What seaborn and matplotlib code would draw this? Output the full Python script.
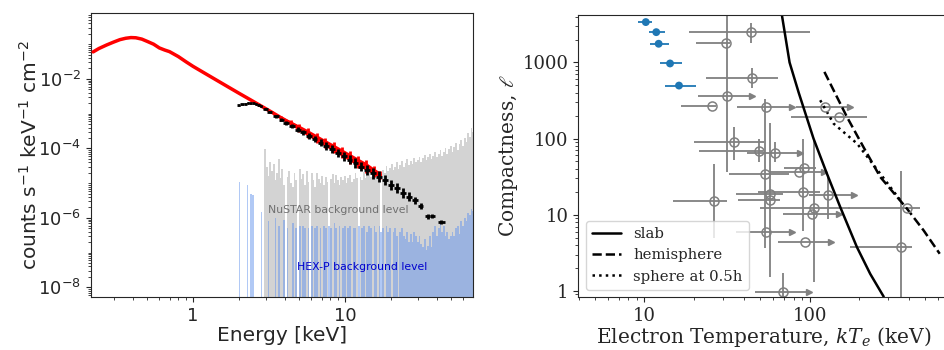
import numpy as np
import seaborn as sns
import matplotlib.pyplot as plt
from matplotlib.ticker import LogLocator, NullFormatter

# --- dados: painel do espectro ---
model_E = [0.22, 0.24, 0.27, 0.30, 0.33, 0.36, 0.39, 0.42, 0.46, 0.50, 0.55, 0.60, 0.65,
           0.70, 0.80, 0.90, 1.0, 1.2, 1.4, 1.7, 2.0, 2.4, 2.8, 3.3, 3.8, 4.4, 5.0, 5.7,
           6.5, 7.4, 8.4, 9.5, 10.8, 12.2, 13.8, 15.5, 17.0]
model_F = [0.060, 0.075, 0.095, 0.115, 0.135, 0.148, 0.155, 0.153, 0.140, 0.120, 0.100,
           0.078, 0.068, 0.061, 0.044, 0.031, 0.023, 0.0144, 0.0097, 0.0059, 0.0039,
           0.00247, 0.00167, 0.00110, 7.6e-4, 5.3e-4, 3.8e-4, 2.7e-4, 1.95e-4, 1.39e-4,
           1.01e-4, 7.4e-5, 5.3e-5, 3.9e-5, 2.9e-5, 2.1e-5, 1.7e-5]
model_dex = [0] * 23 + [0.03, 0.05, 0.08, 0.11, 0.13, 0.13, 0.14, 0.15, 0.15, 0.16, 0.16,
                        0.16, 0.14, 0.11]

nustar_E = [2.0, 2.1, 2.2, 2.3, 2.4, 2.5, 2.6, 2.7, 2.8, 3.0, 3.2, 3.5, 3.8, 4.1, 4.5,
            4.9, 5.3, 5.8, 6.3, 6.9, 7.5, 8.2, 9.0, 9.8, 10.7, 11.7, 12.8, 14.0, 15.3,
            16.7, 18.3, 20.0, 21.9, 24.0, 26.3, 28.8, 31.5, 35.0, 37.6, 43.0]
nustar_F = [1.75e-3, 1.85e-3, 1.95e-3, 2.05e-3, 2.0e-3, 2.0e-3, 1.9e-3, 1.8e-3, 1.65e-3,
            1.35e-3, 1.12e-3, 8.3e-4, 6.7e-4, 5.5e-4, 4.4e-4, 3.5e-4, 2.9e-4, 2.3e-4,
            1.85e-4, 1.48e-4, 1.19e-4, 9.5e-5, 7.5e-5, 6.0e-5, 4.8e-5, 3.8e-5, 3.0e-5,
            2.4e-5, 1.9e-5, 1.55e-5, 1.25e-5, 9.0e-6, 7.3e-6, 5.3e-6, 4.1e-6, 3.2e-6,
            2.2e-6, 1.1e-6, 1.15e-6, 7.8e-7]
nustar_dE = [0.05] * 9 + [0.1, 0.12, 0.15, 0.15, 0.18, 0.2, 0.2, 0.22, 0.25, 0.28, 0.3,
                          0.33, 0.37, 0.4, 0.43, 0.47, 0.5, 0.55, 0.62, 0.68, 0.75, 0.8,
                          0.9, 1.0, 1.05, 1.15, 1.25, 1.2, 1.3, 1.5, 2.2]
nustar_dex = [0.02] * 9 + [0.03, 0.03, 0.04, 0.05, 0.06, 0.06, 0.07, 0.08, 0.09, 0.09,
                           0.10, 0.11, 0.12, 0.12, 0.13, 0.13, 0.14, 0.14, 0.15, 0.15,
                           0.15, 0.15, 0.15, 0.15, 0.14, 0.12, 0.11, 0.08, 0.06, 0.06, 0.06]

bkg_E = [2.00, 2.05, 2.11, 2.16, 2.22, 2.28, 2.34, 2.41, 2.47, 2.54,
         2.60, 2.67, 2.74, 2.82, 2.89, 2.97, 3.05, 3.13, 3.21, 3.30,
         3.39, 3.48, 3.57, 3.67, 3.76, 3.86, 3.97, 4.07, 4.18, 4.30,
         4.41, 4.53, 4.65, 4.77, 4.90, 5.03, 5.16, 5.30, 5.44, 5.59,
         5.74, 5.89, 6.05, 6.21, 6.37, 6.54, 6.72, 6.90, 7.08, 7.27,
         7.46, 7.66, 7.87, 8.08, 8.29, 8.51, 8.74, 8.97, 9.21, 9.46,
         9.71, 9.97, 10.2, 10.5, 10.8, 11.1, 11.4, 11.7, 12.0, 12.3,
         12.6, 12.9, 13.3, 13.6, 14.0, 14.4, 14.8, 15.2, 15.6, 16.0,
         16.4, 16.9, 17.3, 17.8, 18.3, 18.8, 19.2, 19.8, 20.3, 20.8,
         21.4, 22.0, 22.5, 23.1, 23.7, 24.4, 25.0, 25.7, 26.4, 27.1,
         27.8, 28.5, 29.3, 30.1, 30.9, 31.7, 32.6, 33.4, 34.3, 35.2,
         36.2, 37.1, 38.1, 39.2, 40.2, 41.3, 42.4, 43.5, 44.6, 45.8,
         47.1, 48.3, 49.6, 51.0, 52.3, 53.7, 55.1, 56.6, 58.1, 59.7,
         61.2, 62.9, 64.5, 66.3, 68.0, 69.8, 71.7]
# em unidades de 1e-5
nustar_bkg = [0, 0, 0, 0, 0, 0, 0, 0, 0, 0,
              0, 0, 0, 0, 0, 9.5, 3.0, 1.6, 4.0, 2.2,
              3.5, 1.2, 2.0, 5.0, 1.4, 2.6, 0.9, 0, 1.5, 2.3,
              1.0, 0.8, 1.9, 1.2, 0, 2.6, 1.3, 1.8, 0.9, 2.2,
              1.1, 0, 1.9, 1.2, 0.8, 2.0, 1.3, 1.0, 1.6, 0.9,
              1.5, 1.1, 0, 1.3, 1.8, 1.0, 1.7, 1.2, 0.9, 1.5,
              1.2, 1.6, 1.0, 1.4, 1.7, 1.1, 1.3, 2.0, 1.4, 0,
              1.5, 1.2, 2.1, 1.4, 1.8, 2.4, 1.5, 2.0, 2.6, 1.7,
              2.2, 1.6, 0, 2.4, 2.0, 3.2, 2.3, 2.8, 3.6, 2.4,
              3.0, 4.0, 2.6, 3.4, 4.4, 3.0, 3.8, 5.0, 3.4, 4.4,
              3.6, 5.2, 4.0, 4.8, 5.8, 4.2, 5.2, 6.5, 4.6, 5.6,
              7.0, 5.0, 6.2, 8.0, 5.6, 7.0, 9.0, 6.0, 8.0, 10,
              7.0, 9.5, 12, 8.0, 11, 14, 9.0, 13, 18, 12,
              20, 15, 28, 22, 38, 30, 35]
# em unidades de 1e-7
hexp_bkg = [110, 0, 0, 0, 0, 90, 0, 50, 45, 0,
            0, 0, 0, 15, 0, 0, 0, 8, 0, 0,
            0, 10, 0, 6, 0, 0, 9, 0, 5, 0,
            0, 7, 0, 5, 0, 6, 0, 6, 5, 0,
            5, 0, 6, 0, 5, 6, 0, 5, 0, 6,
            5, 0, 6, 5, 0, 7, 5, 0, 6, 0,
            5, 6, 0, 5, 6, 0, 5, 5, 0, 6,
            0, 5, 6, 0, 4, 6, 5, 0, 6, 4,
            0, 6, 4, 5, 0, 6, 4, 5, 0, 4,
            5, 3, 0, 4, 5, 3, 2.5, 4, 2, 3.5,
            2, 4, 3, 2, 3, 1.8, 1.5, 2.5, 1.2, 1.6,
            3, 1.5, 4, 6, 3, 5, 7, 4, 6, 3,
            4, 2.5, 3, 4, 3, 5, 6, 3.5, 8, 6,
            10, 8, 14, 12, 18, 16, 17]

# --- dados: painel de compacidade ---
blue_kT = [10.2, 11.8, 12.2, 14.3, 16.2]
blue_l = [3390, 2500, 1760, 970, 497]
blue_kT_lo = [9.2, 10.6, 10.8, 12.4, 13.3]
blue_kT_hi = [11.1, 13.3, 14.0, 16.8, 20.6]

gray_kT = [44.4, 31.3, 45.0, 31.6, 25.8, 54.7, 124.5, 151, 35.0, 49.3, 61.4, 54.1, 86.9,
           92.9, 26.3, 57.7, 57.7, 91.2, 129, 107, 104, 389, 358, 54.6, 94.3, 69.5]
gray_l = [2500, 1780, 616, 363, 268, 261, 261, 190, 89.3, 68.7, 64.6, 34.6, 36.4, 41.5,
          15.0, 18.9, 15.4, 19.8, 18.3, 12.4, 10.3, 12.4, 3.75, 6.0, 4.36, 0.98]
gray_kT_lo = [18.5, 20.5, 23.5, 21.0, 16.6, 36.6, 82.7, 77, 20, 21.3, 41.7, 32.6, 57.7,
              70, 15, 36, 37, 49, 99, 50, 69.5, 172, 176, 36, 64, 46.9]
gray_kT_hi = [100, 33, 64.5, 44.8, 27, 78, 176, 222, 53.3, 52, 87.6, 75, 121.7, 110,
              31.6, 69, 66, 116, 185, 176, 150, 469, 420, 78, 134, 99]
gray_l_lo = [1800, 1780, 455, 36, 268, 261, 261, 190, 52, 49, 49, 3.6, 36.4, 41.5, 5,
             18.9, 1.5, 6.1, 8.9, 1.3, 10.3, 12.4, 0.37, 6.0, 4.36, 0.5]
gray_l_hi = [3300, 1780, 834, 4500, 268, 261, 261, 190, 142, 100, 90, 330, 36.4, 41.5,
             47, 18.9, 158, 100, 33, 100, 10.3, 12.4, 37, 6.0, 4.36, 1.7]
gray_limit = [False, False, False, True, False, True, True, False, False, False, True,
              False, True, False, False, False, False, False, True, False, True, False,
              False, True, True, True]

slab_kT = [68.0, 75.7, 86.0, 105.7, 127.4, 153.4, 193.6, 233, 281]
slab_l = [4200, 1000, 400, 100, 34.6, 12.6, 3.75, 1.67, 0.84]
hemi_kT = [123, 168.5, 212, 268, 389, 491, 614]
hemi_l = [752, 192, 77.4, 31.3, 12.0, 6.2, 3.07]
sphere_kT = [116, 140, 194, 268, 355]
sphere_l = [319, 157, 86, 34.6, 15.4]

CINZA = '#808080'
AZUL = '#1f77b4'


def painel_espectro(ax):
    ax.set_xscale('log')
    ax.set_yscale('log')

    E = np.array(bkg_E)
    nus = np.clip(np.array(nustar_bkg) * 1e-5, 1e-14, None)
    hex_ = np.clip(np.array(hexp_bkg) * 1e-7, 1e-14, None)
    ax.fill_between(E, 1e-14, nus, step='mid', color='lightgray', lw=0, zorder=1)
    ax.fill_between(E, 1e-14, hex_, step='mid', color='cornflowerblue', alpha=0.5,
                    lw=0, zorder=2)

    mE = np.array(model_E)
    mF = np.array(model_F)
    md = np.array(model_dex)
    ax.fill_between(mE, mF * 10 ** (-0.6 * md), mF * 10 ** (0.8 * md), color='red',
                    lw=0, zorder=3)
    ax.errorbar(mE, mF, yerr=[mF * (1 - 10 ** -md), mF * (10 ** (1.2 * md) - 1)],
                fmt='none', ecolor='red', elinewidth=2.0, zorder=3)
    sns.lineplot(x=mE, y=mF, color='red', lw=2.5, ax=ax, zorder=3)

    nE = np.array(nustar_E)
    nF = np.array(nustar_F)
    nd = np.array(nustar_dex)
    ax.errorbar(nE, nF, xerr=nustar_dE, yerr=[nF * (1 - 10 ** -nd), nF * (10 ** nd - 1)],
                fmt='none', ecolor='black', elinewidth=2.0, zorder=4)

    ax.text(3.11, 1.7e-6, 'NuSTAR background level', color='#707070', fontsize=7.8,
            va='center', ha='left', zorder=5)
    ax.text(4.82, 3.9e-8, 'HEX-P background level', color='mediumblue', fontsize=7.8,
            va='center', ha='left', zorder=5)

    ax.set_xlim(0.213, 69.5)
    ax.set_ylim(5.3e-9, 0.79)
    ax.set_xticks([1, 10], labels=['1', '10'])
    ax.set_yticks([1e-8, 1e-6, 1e-4, 1e-2])
    ax.xaxis.set_minor_locator(LogLocator(base=10, subs=np.arange(2, 10), numticks=50))
    ax.yaxis.set_minor_locator(LogLocator(base=10, subs=np.arange(1, 10), numticks=50))
    ax.xaxis.set_minor_formatter(NullFormatter())
    ax.yaxis.set_minor_formatter(NullFormatter())
    ax.tick_params(labelsize=13)
    ax.set_xlabel('Energy [keV]', fontsize=14.5, labelpad=1)
    ax.set_ylabel('counts s$^{-1}$ keV$^{-1}$ cm$^{-2}$', fontsize=14.5, labelpad=-2)


def painel_compacidade(ax):
    ax.set_xscale('log')
    ax.set_yscale('log')

    kT = np.array(gray_kT)
    lv = np.array(gray_l)
    lo = np.array(gray_kT_lo)
    hi = np.array(gray_kT_hi)
    llo = np.array(gray_l_lo)
    lhi = np.array(gray_l_hi)
    lim = np.array(gray_limit)

    ax.errorbar(kT, lv, xerr=[kT - lo, np.where(lim, 0, hi - kT)],
                yerr=[lv - llo, lhi - lv], fmt='o', ms=6.5, mfc='none', mec=CINZA,
                mew=1.1, ecolor=CINZA, elinewidth=1.3, capsize=0, zorder=2)
    # limites inferiores: linha ate o fim e seta
    ax.hlines(lv[lim], kT[lim], hi[lim], color=CINZA, lw=1.3, zorder=2)
    ax.plot(hi[lim], lv[lim], ls='none', marker='>', ms=4.3, color=CINZA, mec=CINZA,
            zorder=2)

    bk = np.array(blue_kT)
    ax.errorbar(bk, blue_l, xerr=[bk - np.array(blue_kT_lo), np.array(blue_kT_hi) - bk],
                fmt='none', ecolor=AZUL, elinewidth=1.3, zorder=3)
    sns.scatterplot(x=blue_kT, y=blue_l, color=AZUL, s=32, edgecolor='none', ax=ax,
                    zorder=4)

    sns.lineplot(x=slab_kT, y=slab_l, color='black', lw=1.8, ax=ax, label='slab',
                 sort=False)
    sns.lineplot(x=hemi_kT, y=hemi_l, color='black', lw=1.8, ls='--', ax=ax,
                 label='hemisphere', sort=False)
    sns.lineplot(x=sphere_kT, y=sphere_l, color='black', lw=1.8, ls=':', ax=ax,
                 label='sphere at 0.5h', sort=False)

    ax.set_xlim(3.98, 692)
    ax.set_ylim(0.83, 4200)
    ax.set_xticks([10, 100], labels=['10', '100'])
    ax.set_yticks([1, 10, 100, 1000], labels=['1', '10', '100', '1000'])
    ax.xaxis.set_minor_locator(LogLocator(base=10, subs=np.arange(2, 10), numticks=50))
    ax.yaxis.set_minor_locator(LogLocator(base=10, subs=np.arange(2, 10), numticks=50))
    ax.xaxis.set_minor_formatter(NullFormatter())
    ax.yaxis.set_minor_formatter(NullFormatter())
    for lab in ax.get_xticklabels() + ax.get_yticklabels():
        lab.set_family('DejaVu Serif')
        lab.set_fontsize(13)
    ax.set_xlabel('Electron Temperature, $kT_e$ (keV)', fontsize=14.5, labelpad=0,
                  family='DejaVu Serif', math_fontfamily='dejavuserif')
    ax.set_ylabel('Compactness, $\\ell$', fontsize=14.5, family='DejaVu Serif',
                  math_fontfamily='dejavuserif', labelpad=2)
    ax.legend(loc='lower left', prop={'family': 'DejaVu Serif', 'size': 10.7},
              handlelength=2.0)


def main():
    sns.set_style('ticks')
    plt.rcParams['font.family'] = ['DejaVu Sans']

    fig = plt.figure(figsize=(9.45, 3.5), dpi=100)
    ax1 = fig.add_axes([91 / 945, 53 / 350, 382 / 945, 284 / 350])
    ax2 = fig.add_axes([578.3 / 945, 53 / 350, 370 / 945, 282 / 350])

    painel_espectro(ax1)
    painel_compacidade(ax2)

    fig.savefig('out.png', dpi=100)


if __name__ == '__main__':
    main()
